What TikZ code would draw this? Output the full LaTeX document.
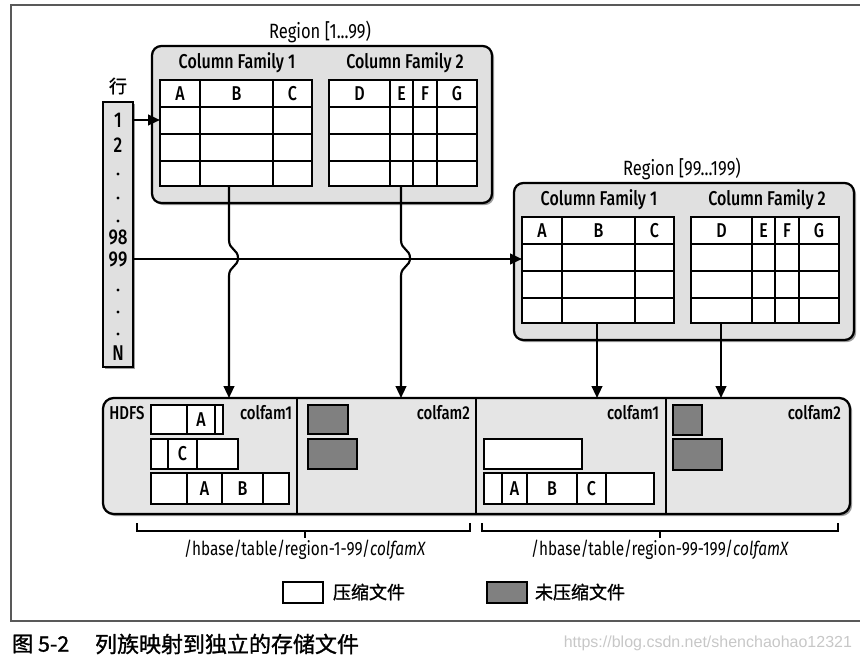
\documentclass[tikz,border=0pt]{standalone}
\usepackage{fontspec}
\setmainfont{Fira Sans}[FakeStretch=0.8]
\newfontfamily\condm{Fira Sans Medium}[FakeStretch=0.8]
\newfontfamily\cjk{Noto Sans CJK SC}
\newfontfamily\cjkb{Noto Sans CJK SC}[FakeBold=1.2]
\newfontfamily\wmfont{Liberation Sans}
\usetikzlibrary{arrows.meta,shadows,fit}

\tikzset{
  every node/.style={inner sep=0pt, outer sep=0pt},
  ln/.style={line width=1.6pt, line cap=rect},
  gridln/.style={line width=1.4pt},
  shadowed/.style={drop shadow={shadow xshift=1.6pt, shadow yshift=-1.6pt, fill=black!70, opacity=0.55}},
  regionbox/.style={draw, line width=1.7pt, rounded corners=7pt, fill=gray!24, shadowed},
  rowbox/.style={draw, line width=1.7pt, fill=gray!24, shadowed},
  hdfsbox/.style={draw, line width=1.7pt, rounded corners=8pt, fill=gray!20, shadowed},
  tbl/.style={draw, line width=1.4pt, fill=white},
  lightfile/.style={draw, line width=1.3pt, fill=white},
  darkfile/.style={draw, line width=1.3pt, fill=black!50},
  regionlbl/.style={font=\fontsize{15.5}{18}\selectfont},
  cf/.style={font=\condm\fontsize{15}{18}\selectfont},
  hdr/.style={font=\condm\fontsize{15}{17}\selectfont},
  rowlbl/.style={font=\condm\fontsize{16}{18}\selectfont},
  hdfslbl/.style={font=\condm\fontsize{14}{16}\selectfont},
  pathlbl/.style={font=\fontsize{14.4}{17}\selectfont},
  cjklbl/.style={font=\cjkb\fontsize{13.5}{16}\selectfont},
  conn/.style={line width=1.6pt},
  arr/.style={conn, -{Triangle[length=9pt,width=8pt]}},
  brk/.style={line width=1.4pt},
}

\newcommand\regionblock[5]{%
\begin{scope}[shift={(#1,#2)}]
  \node[regionlbl] (#4lbl) at (320,32) {#3};
  \node[regionbox, fit={(152,46)(492,203)}] (#4) {};
  \node[cf] at (237,63) {Column Family 1};
  \node[cf] at (405,63) {Column Family 2};
  \node[tbl, fit={(160,80)(312,186)}] (#5a) {};
  \node[tbl, fit={(329,80)(477,186)}] (#5b) {};
  \foreach \yy in {107,134,161} {
    \draw[gridln] (160,\yy) -- (312,\yy);
    \draw[gridln] (329,\yy) -- (477,\yy);
  }
  \foreach \xx in {200,273} { \draw[gridln] (\xx,80) -- (\xx,186); }
  \foreach \xx in {390,413,437} { \draw[gridln] (\xx,80) -- (\xx,186); }
  \node[hdr] at (180,94) {A};
  \node[hdr] at (236.5,94) {B};
  \node[hdr] at (292.5,94) {C};
  \node[hdr] at (359.5,94) {D};
  \node[hdr] at (401.5,94) {E};
  \node[hdr] at (425,94) {F};
  \node[hdr] at (457,94) {G};
\end{scope}}

\begin{document}
\begin{tikzpicture}[x=0.75pt,y=-0.75pt]
\useasboundingbox (0,0) rectangle (860,661);

% outer frame
\draw[line width=1.5pt, black!65] (860,5) -- (11,5) -- (11,621) -- (860,621);

% regions
\regionblock{0}{0}{Region [1...99)}{regA}{tA}
\regionblock{362}{137}{Region [99...199)}{regB}{tB}

% row key column
\node[cjklbl] (hang) at (118,86) {行};
\node[rowbox, fit={(103,102)(133,367)}] (rows) {};
\node[rowlbl] (n1) at (118,120) {1};
\node[rowlbl] (n2) at (118,145) {2};
\node[rowlbl] (n98) at (118,237) {98};
\node[rowlbl] (n99) at (118,259) {99};
\node[rowlbl] (nN) at (118,353) {N};
\foreach \yy in {174,198,221,290,312,334} { \fill (118,\yy) circle (1.7); }

% HDFS box
\node[hdfsbox, fit={(103,398)(850,514)}] (hdfs) {};
\draw[ln] (297,398) -- (297,514);
\draw[ln] (476,398) -- (476,514);
\draw[ln] (666,398) -- (666,514);
\node[hdfslbl] (hdfslabel) at (127,413) {HDFS};
\node[hdfslbl, anchor=east] at (292,413) {colfam1};
\node[hdfslbl, anchor=east] at (470,413) {colfam2};
\node[hdfslbl, anchor=east] at (659,413) {colfam1};
\node[hdfslbl, anchor=east] at (841,413) {colfam2};

% files, section 1
\draw[lightfile] (151,405) rectangle (223,434);
\draw[gridln] (187,405) -- (187,434) (215,405) -- (215,434);
\node[hdr] at (201,420) {A};
\draw[lightfile] (151,439) rectangle (238,469);
\draw[gridln] (168,439) -- (168,469) (197,439) -- (197,469);
\node[hdr] at (182.5,454) {C};
\draw[lightfile] (151,473) rectangle (289,504);
\draw[gridln] (187,473) -- (187,504) (222,473) -- (222,504) (263,473) -- (263,504);
\node[hdr] at (204.5,489) {A};
\node[hdr] at (242.5,489) {B};
% section 2
\draw[darkfile] (308,405) rectangle (348,434);
\draw[darkfile] (308,439) rectangle (357,469);
% section 3
\draw[lightfile] (484,439) rectangle (582,469);
\draw[lightfile] (484,473) rectangle (654,504);
\draw[gridln] (502,473) -- (502,504) (527,473) -- (527,504) (577,473) -- (577,504) (606,473) -- (606,504);
\node[hdr] at (514.5,489) {A};
\node[hdr] at (552,489) {B};
\node[hdr] at (591.5,489) {C};
% section 4
\draw[darkfile] (673,405) rectangle (702,435);
\draw[darkfile] (673,439) rectangle (722,470);

% connectors
\coordinate (xa) at (229,0);
\coordinate (xb) at (401,0);
\coordinate (xc) at (597,0);
\coordinate (xd) at (721,0);
\draw[arr] (rows.east |- n1) -- (tAa.west |- n1);
\draw[arr] (rows.east |- n99) -- (tBa.west |- n99);
\draw[arr] (tAa.south -| xa) -- (229,240) .. controls (229,250) and (238,249) .. (238,258)
  .. controls (238,267) and (229,266) .. (229,276) -- (hdfs.north -| xa);
\draw[arr] (tAb.south -| xb) -- (401,240) .. controls (401,250) and (410,249) .. (410,258)
  .. controls (410,267) and (401,266) .. (401,276) -- (hdfs.north -| xb);
\draw[arr] (tBa.south -| xc) -- (hdfs.north -| xc);
\draw[arr] (tBb.south -| xd) -- (hdfs.north -| xd);

% brackets
\draw[brk] (137,523) -- (137,531) -- (470,531) -- (470,523);
\draw[brk] (305,531) -- (305,538);
\draw[brk] (482,523) -- (482,531) -- (838,531) -- (838,523);
\draw[brk] (660,531) -- (660,538);
\node[pathlbl] (p1) at (305,550) {/hbase/table/region-1-99/\textit{colfamX}};
\node[pathlbl] (p2) at (660,550) {/hbase/table/region-99-199/\textit{colfamX}};

% legend
\draw[lightfile] (283,582) rectangle (323,603);
\node[cjklbl, anchor=west] (lg1) at (333,592) {压缩文件};
\draw[darkfile] (487,582) rectangle (527,603);
\node[cjklbl, anchor=west] (lg2) at (535,592) {未压缩文件};

% caption
\node[font=\cjkb\fontsize{16}{18}\selectfont, anchor=west] (cap1) at (12,644) {图 5-2};
\node[font=\cjkb\fontsize{16.5}{18}\selectfont, anchor=west] (cap2) at (95,644) {列族映射到独立的存储文件};
\node[font=\wmfont\fontsize{12}{14}\selectfont, text=black!22, anchor=east] (wm) at (852,643) {https://blog.csdn.net/shenchaohao12321};
\end{tikzpicture}
\end{document}
